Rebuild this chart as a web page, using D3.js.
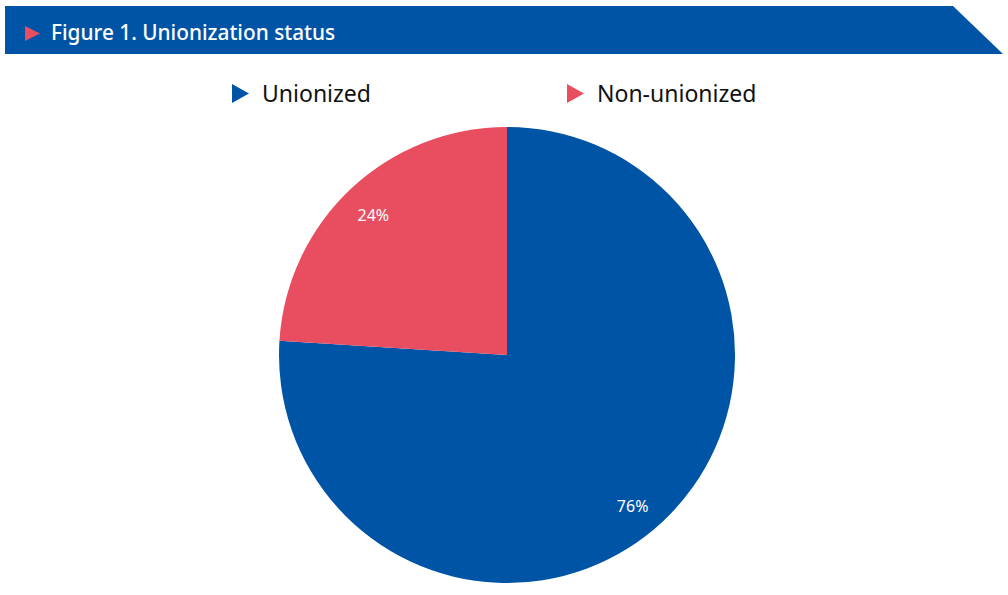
<!DOCTYPE html>
<html><head><meta charset="utf-8">
<script src="https://cdn.jsdelivr.net/npm/d3@7"></script>
<style>body{margin:0;background:#fff;} svg{display:block;font-family:"Noto Sans","Open Sans",sans-serif;}</style>
</head><body>
<script>
const title = "Figure 1. Unionization status";
const categories = ["Unionized", "Non-unionized"];
const values = [76, 24];
const labels = ["76%", "24%"];
const colors = ["#0054A6", "#E84E5F"];

const W = 1008, H = 595;
const svg = d3.select("body").append("svg").attr("width", W).attr("height", H);

// Banner
svg.append("path")
  .attr("d", "M5,6 L953,6 L1003,54 L5,54 Z")
  .attr("fill", "#0054A6");
svg.append("path").attr("d", "M25,26 L40,33.5 L25,41 Z").attr("fill", "#E84E5F");
svg.append("text").attr("x", 51).attr("y", 40).attr("fill", "#fff")
  .attr("font-size", 20.8).attr("font-weight", 500).text(title);

// Legend
const legX = [232, 567];
categories.forEach((c, i) => {
  const g = svg.append("g").attr("transform", `translate(${legX[i]},0)`);
  g.append("path").attr("d", "M0,84 L17,93.5 L0,103 Z").attr("fill", colors[i]);
  g.append("text").attr("x", 30).attr("y", 102).attr("font-size", 23).attr("fill", "#111").text(c);
});

// Pie
const cx = 507, cy = 355, R = 228;
const pie = d3.pie().sort(null).value(d => d)(values);
const arc = d3.arc().innerRadius(0).outerRadius(R);
const labelArc = d3.arc().innerRadius(R * 0.85).outerRadius(R * 0.85);
const labelShift = [[-7, 10], [-1, 2]];
const g = svg.append("g").attr("transform", `translate(${cx},${cy})`);
g.selectAll("path.slice").data(pie).join("path").attr("class", "slice")
  .attr("d", arc).attr("fill", (d, i) => colors[i]);
g.selectAll("text.lbl").data(pie).join("text").attr("class", "lbl")
  .attr("transform", (d, i) => {
    const c = labelArc.centroid(d);
    return `translate(${c[0] + labelShift[i][0]},${c[1] + labelShift[i][1]})`;
  })
  .attr("text-anchor", "middle").attr("dy", "0.35em")
  .attr("fill", "#fff").attr("font-size", 16)
  .text((d, i) => labels[i]);
</script>
</body></html>
